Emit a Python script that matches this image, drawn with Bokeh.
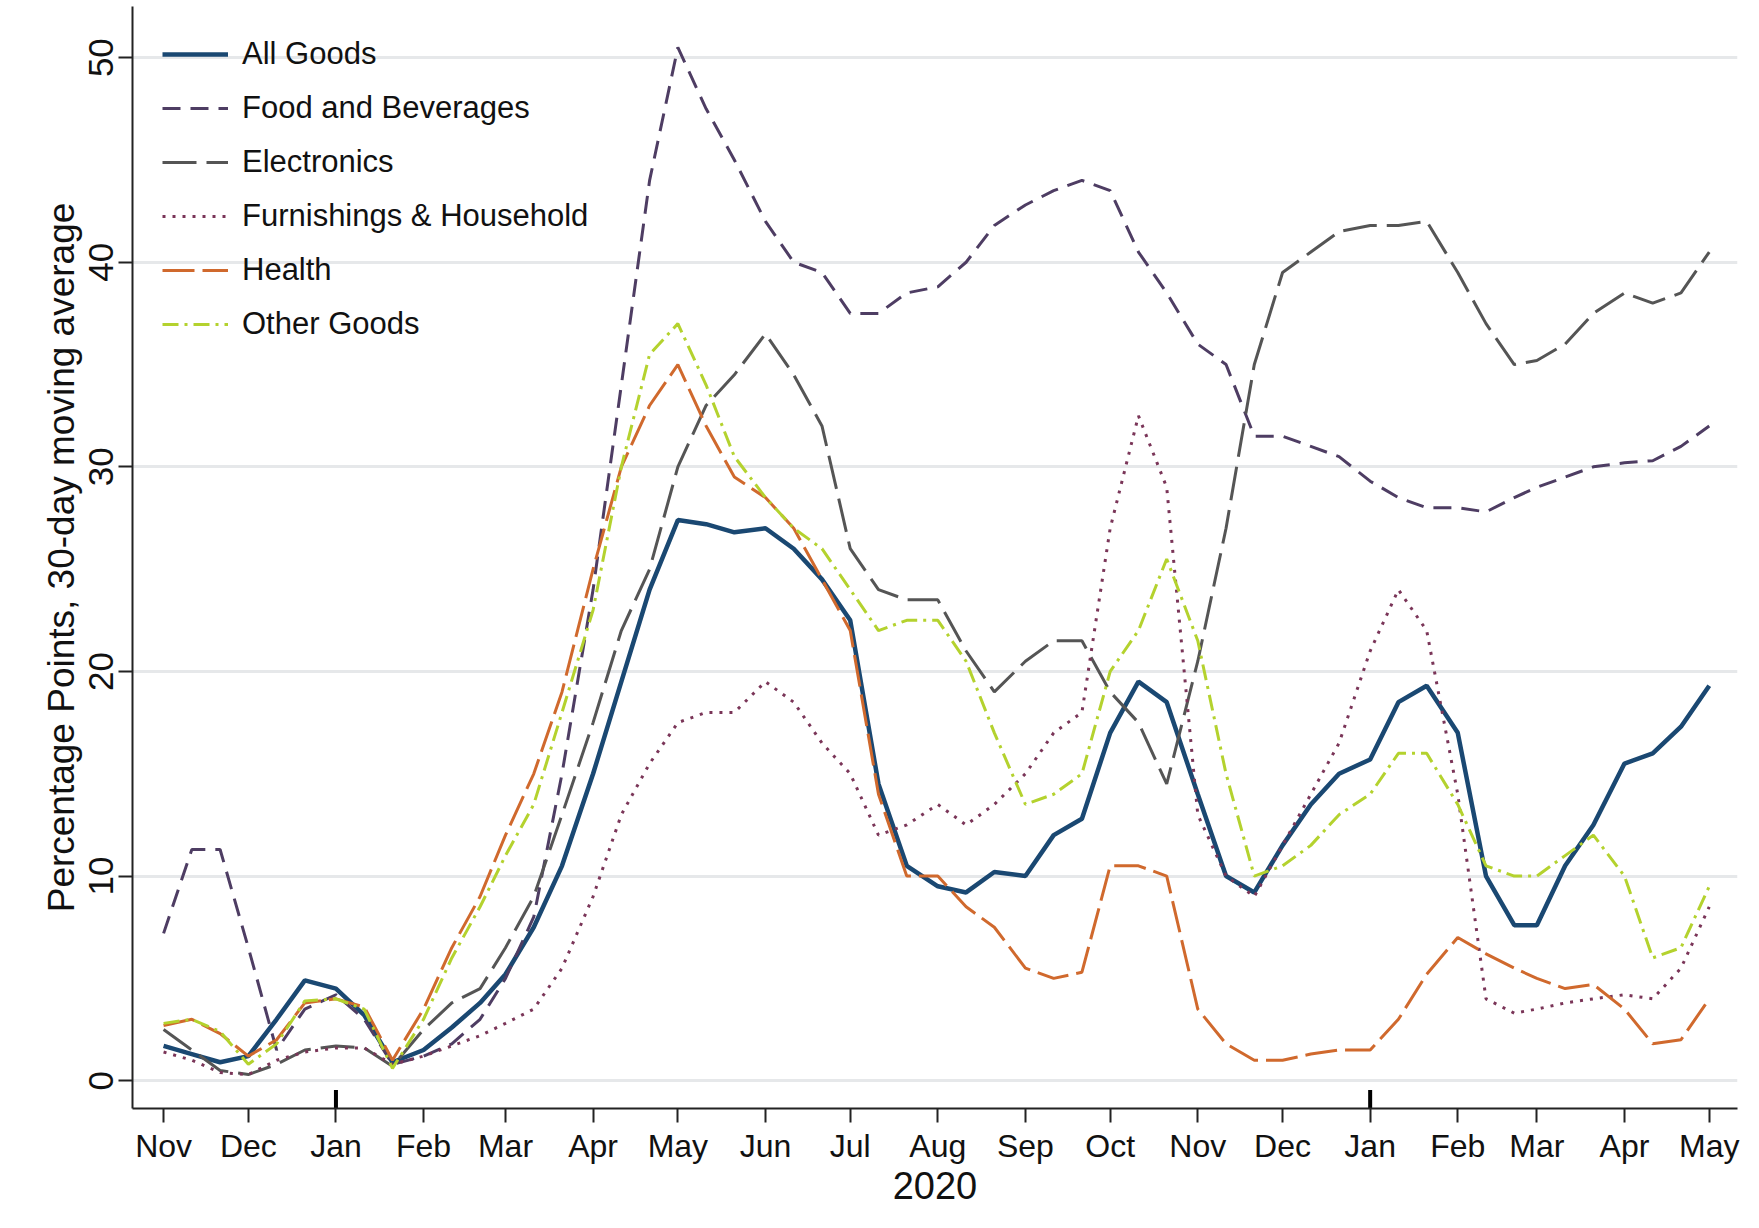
from datetime import datetime
from bokeh.plotting import figure
from bokeh.models import FixedTicker, Range1d, Legend, LegendItem
from bokeh.embed import file_html
from bokeh.resources import INLINE

# sample dates: 1st, 11th, 21st of each month, Nov 2019 - May 2021
dates = []
for y, m in [(2019, 11), (2019, 12)] + [(2020, k) for k in range(1, 13)] + [(2021, k) for k in range(1, 5)]:
    for d in (1, 11, 21):
        dates.append(datetime(y, m, d))
dates.append(datetime(2021, 5, 1))

all_goods = [1.7, 1.3, 0.9, 1.2, 3.0, 4.9, 4.5, 3.2, 0.9, 1.5, 2.6, 3.8, 5.2, 7.5, 10.5, 15, 19.5, 24,
             27.4, 27.2, 26.8, 27.0, 26.0, 24.5, 22.5, 14.5, 10.5, 9.5, 9.2, 10.2, 10.0, 12.0, 12.8,
             17.0, 19.5, 18.5, 14.0, 10.0, 9.2, 11.5, 13.5, 15.0, 15.7, 18.5, 19.3, 17.0, 10.0, 7.6,
             7.6, 10.5, 12.5, 15.5, 16.0, 17.3, 19.3]
food = [7.2, 11.3, 11.3, 6.5, 1.5, 3.5, 4.2, 3.0, 0.8, 1.2, 1.8, 3.0, 5.0, 8.0, 15, 24, 34, 44,
        50.5, 47.5, 45, 42, 40, 39.5, 37.5, 37.5, 38.5, 38.8, 40, 41.8, 42.8, 43.5, 44,
        43.5, 40.5, 38.5, 36, 35, 31.5, 31.5, 31, 30.5, 29.3, 28.5, 28, 28, 27.8, 28.5,
        29, 29.5, 30, 30.2, 30.3, 31, 32]
electronics = [2.5, 1.5, 0.5, 0.3, 0.8, 1.5, 1.7, 1.6, 0.7, 2.5, 3.8, 4.5, 6.5, 9, 13, 17.5, 22, 25,
               30, 33, 34.5, 36.5, 34.5, 32, 26, 24, 23.5, 23.5, 21, 19, 20.5, 21.5, 21.5,
               19, 17.5, 14.5, 20.5, 27, 35, 39.5, 40.5, 41.5, 41.8, 41.8, 42, 39.5, 37, 35,
               35.2, 36, 37.5, 38.5, 38, 38.5, 40.5]
furnishings = [1.4, 1.0, 0.4, 0.3, 1.0, 1.4, 1.6, 1.6, 0.8, 1.2, 1.7, 2.2, 2.8, 3.5, 5.5, 9, 13, 15.5,
               17.5, 18, 18, 19.5, 18.5, 16.5, 15, 12, 12.5, 13.5, 12.5, 13.5, 15, 17, 18,
               27, 32.5, 29, 13, 10, 9, 11.5, 14, 16.5, 21, 24, 22, 14, 4, 3.3,
               3.5, 3.8, 4.0, 4.2, 4.0, 5.5, 8.5]
health = [2.7, 3.0, 2.3, 1.2, 2.0, 3.8, 4.0, 3.6, 1.0, 3.5, 6.5, 9, 12, 15, 19, 25, 30, 33,
          35, 32, 29.5, 28.5, 27, 24.5, 22, 14, 10, 10, 8.5, 7.5, 5.5, 5.0, 5.3,
          10.5, 10.5, 10, 3.5, 1.8, 1.0, 1.0, 1.3, 1.5, 1.5, 3.0, 5.2, 7.0, 6.2, 5.5,
          5.0, 4.5, 4.7, 3.5, 1.8, 2.0, 4.0]
other = [2.8, 3.0, 2.4, 0.8, 1.8, 3.9, 4.0, 3.5, 0.6, 3.0, 6, 8.5, 11, 13.5, 18, 23, 30, 35.5,
         37, 34, 30.5, 28.5, 27, 26, 24, 22, 22.5, 22.5, 20.5, 17, 13.5, 14, 15,
         20, 22, 25.5, 21.5, 15, 10, 10.5, 11.5, 13, 14, 16, 16, 13.5, 10.5, 10,
         10, 11, 12, 10, 6, 6.5, 9.5]

series = [
    ("All Goods", all_goods, "#1a4872", 4.5, "solid"),
    ("Food and Beverages", food, "#4e3d63", 3, "18 10"),
    ("Electronics", electronics, "#555555", 3, "34 10"),
    ("Furnishings & Household", furnishings, "#7a3558", 3, "3 7"),
    ("Health", health, "#d0692d", 3, "32 8"),
    ("Other Goods", other, "#b4d22e", 3, "16 6 3 6"),
]

month_labels = ["Nov", "Dec", "Jan", "Feb", "Mar", "Apr", "May", "Jun", "Jul", "Aug", "Sep", "Oct",
                "Nov", "Dec", "Jan", "Feb", "Mar", "Apr", "May"]
month_starts = [datetime(2019, 11, 1), datetime(2019, 12, 1)] + [datetime(2020, k, 1) for k in range(1, 13)] + \
               [datetime(2021, k, 1) for k in range(1, 6)]
year_marks = [datetime(2020, 1, 1), datetime(2021, 1, 1)]


def ms(d):
    return (d - datetime(1970, 1, 1)).total_seconds() * 1000.0


FONT = "Liberation Sans"

p = figure(width=1743, height=1218, x_axis_type="datetime", output_backend="svg",
           toolbar_location=None, min_border_left=132, min_border_right=6,
           min_border_top=6, min_border_bottom=110)
p.x_range = Range1d(ms(datetime(2019, 10, 21)), ms(datetime(2021, 5, 11)))
p.y_range = Range1d(-1.36, 52.5)
p.outline_line_color = None
p.background_fill_color = "white"

items = []
for name, vals, col, w, dash in series:
    r = p.line(dates, vals, line_color=col, line_width=w, line_dash=dash)
    items.append(LegendItem(label=name, renderers=[r]))

# heavy year marks on the x axis
p.segment(x0=year_marks, y0=[-1.36] * 2, x1=year_marks, y1=[-0.45] * 2,
          line_color="black", line_width=4)

p.xgrid.grid_line_color = None
p.ygrid.grid_line_color = "#e6e8ea"
p.ygrid.grid_line_width = 3
p.yaxis.ticker = FixedTicker(ticks=[0, 10, 20, 30, 40, 50])
p.xaxis.ticker = FixedTicker(ticks=[ms(d) for d in month_starts])
p.xaxis.major_label_overrides = {ms(d): lab for d, lab in zip(month_starts, month_labels)}
p.yaxis.major_label_orientation = "vertical"

for ax in (p.xaxis[0], p.yaxis[0]):
    ax.axis_line_width = 2
    ax.axis_line_color = "#222222"
    ax.major_tick_line_color = "#222222"
    ax.major_tick_line_width = 2
    ax.major_tick_out = 14
    ax.major_tick_in = 0
    ax.minor_tick_line_color = None
    ax.major_label_text_font = FONT
    ax.major_label_text_font_size = "32px"
    ax.major_label_text_color = "#111111"
    ax.axis_label_text_font = FONT
    ax.axis_label_text_font_style = "normal"
    ax.axis_label_text_color = "#111111"

p.yaxis.major_label_text_font_size = "35px"
p.xaxis.axis_label = "2020"
p.xaxis.axis_label_text_font_size = "38px"
p.xaxis.axis_label_standoff = 5
p.yaxis.axis_label = "Percentage Points, 30-day moving average"
p.yaxis.axis_label_text_font_size = "37px"

legend = Legend(items=items, location="top_left", border_line_color=None,
                background_fill_alpha=0, label_text_font=FONT, label_text_font_size="31px",
                label_text_color="#111111", glyph_width=66, glyph_height=20, spacing=18,
                margin=30, padding=8, label_standoff=14)
p.add_layout(legend)

open("out.html", "w").write(file_html(p, INLINE))
